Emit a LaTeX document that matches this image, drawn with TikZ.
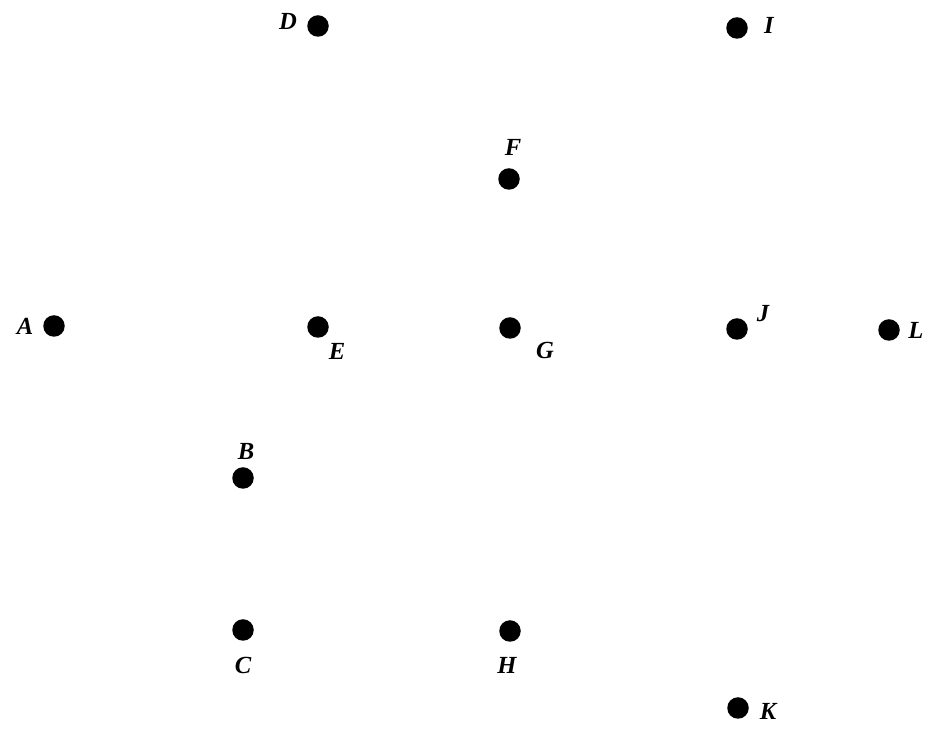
\documentclass[tikz,border=0pt]{standalone}
\usepackage{fontspec}
\setmainfont{Liberation Serif}
\usetikzlibrary{positioning}

\begin{document}
\begin{tikzpicture}[x=0.2mm,y=-0.2mm,
    pt/.style={circle,fill=black,inner sep=0pt,minimum size=4.3mm},
    lbl/.style={font=\fontsize{14}{16}\selectfont\bfseries\itshape,inner sep=0pt}]
  \useasboundingbox (0,0) rectangle (933,742);
  % punti
  \foreach \n/\x/\y in {A/54/326, B/243/478, C/243/630, D/318/26, E/318/327,
      F/509/179, G/510/328, H/510/631, I/737/28, J/737/329, K/738/708, L/889/330} {
    \node[pt] (\n) at (\x,\y) {};
  }
  % etichette
  \foreach \n/\x/\y in {A/25/326, B/246/451, C/243/665, D/288/21, E/337/351,
      F/513/147, G/545/350, H/507/665, I/769/25, J/763/314, K/768/711, L/916/330} {
    \node[lbl] (lab\n) at (\x,\y) {\n};
  }
\end{tikzpicture}
\end{document}
